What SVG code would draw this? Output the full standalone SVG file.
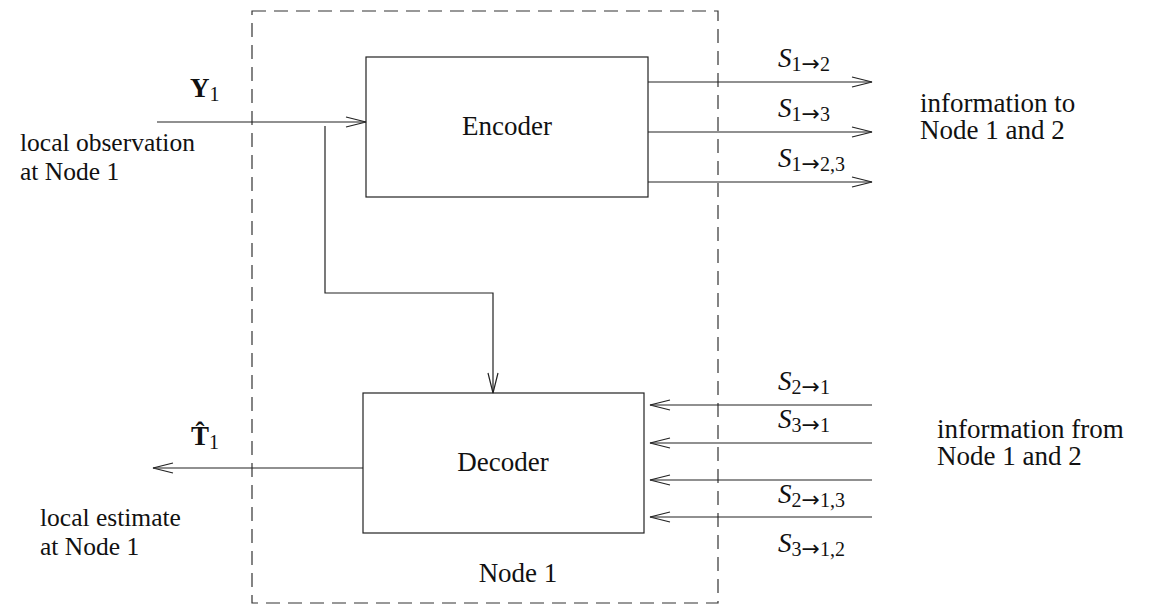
<svg xmlns="http://www.w3.org/2000/svg" width="1156" height="605" viewBox="0 0 1156 605">
<style>
  .ln{fill:none;stroke:#222;stroke-width:1.2}
  .box{fill:#fff;stroke:#222;stroke-width:1.2}
  .dash{fill:none;stroke:#333;stroke-width:1.2;stroke-dasharray:14 8}
  text{font-family:"Liberation Serif","Times New Roman",serif;font-size:27px;fill:#111}
  .it{font-style:italic}
  .sub{font-size:20px}
  .ar{font-family:"DejaVu Sans",sans-serif;font-size:22px}
  .bf{font-weight:bold}
  .ml{font-size:25.5px}
</style>
<defs>
  <marker id="ah" markerUnits="userSpaceOnUse" markerWidth="24" markerHeight="14" viewBox="-22 -7 24 14" refX="0" refY="0" orient="auto">
    <path d="M-20,-5 L0,0 L-20,5" fill="none" stroke="#222" stroke-width="1.2"/>
  </marker>
</defs>
<rect id="node1-frame" class="dash" x="252" y="11" width="466" height="592"/>
<g id="encoder">
  <rect class="box" x="366" y="57" width="282" height="140"/>
  <text x="507" y="135" text-anchor="middle">Encoder</text>
</g>
<g id="decoder">
  <rect class="box" x="363" y="393" width="281" height="140"/>
  <text x="503" y="471" text-anchor="middle">Decoder</text>
</g>
<g id="connectors">
  <line class="ln" x1="157" y1="122" x2="366" y2="122" marker-end="url(#ah)"/>
  <polyline class="ln" points="325,126 325,293 493,293 493,393" marker-end="url(#ah)"/>
  <line class="ln" x1="648" y1="82" x2="872" y2="82" marker-end="url(#ah)"/>
  <line class="ln" x1="648" y1="132" x2="872" y2="132" marker-end="url(#ah)"/>
  <line class="ln" x1="648" y1="182" x2="872" y2="182" marker-end="url(#ah)"/>
  <line class="ln" x1="872" y1="405" x2="650" y2="405" marker-end="url(#ah)"/>
  <line class="ln" x1="872" y1="443" x2="650" y2="443" marker-end="url(#ah)"/>
  <line class="ln" x1="872" y1="480" x2="650" y2="480" marker-end="url(#ah)"/>
  <line class="ln" x1="872" y1="517" x2="650" y2="517" marker-end="url(#ah)"/>
  <line class="ln" x1="363" y1="468" x2="153" y2="468" marker-end="url(#ah)"/>
</g>
<g id="labels">
  <text x="190" y="97"><tspan class="bf">Y</tspan><tspan class="sub" dy="4">1</tspan></text>
  <text class="ml" x="20" y="151">local observation<tspan x="20" dy="29">at Node 1</tspan></text>
  <text x="191" y="445"><tspan class="bf">T̂</tspan><tspan class="sub" dy="4">1</tspan></text>
  <text class="ml" x="40" y="526">local estimate<tspan x="40" dy="29">at Node 1</tspan></text>
  <text x="778" y="67"><tspan class="it">S</tspan><tspan class="sub" dy="4">1</tspan><tspan class="ar">→</tspan><tspan class="sub">2</tspan></text>
  <text x="778" y="117"><tspan class="it">S</tspan><tspan class="sub" dy="4">1</tspan><tspan class="ar">→</tspan><tspan class="sub">3</tspan></text>
  <text x="778" y="167"><tspan class="it">S</tspan><tspan class="sub" dy="4">1</tspan><tspan class="ar">→</tspan><tspan class="sub">2,3</tspan></text>
  <text x="920" y="112">information to<tspan x="920" dy="27">Node 1 and 2</tspan></text>
  <text x="778" y="390"><tspan class="it">S</tspan><tspan class="sub" dy="4">2</tspan><tspan class="ar">→</tspan><tspan class="sub">1</tspan></text>
  <text x="778" y="428"><tspan class="it">S</tspan><tspan class="sub" dy="4">3</tspan><tspan class="ar">→</tspan><tspan class="sub">1</tspan></text>
  <text x="778" y="503"><tspan class="it">S</tspan><tspan class="sub" dy="4">2</tspan><tspan class="ar">→</tspan><tspan class="sub">1,3</tspan></text>
  <text x="778" y="552"><tspan class="it">S</tspan><tspan class="sub" dy="4">3</tspan><tspan class="ar">→</tspan><tspan class="sub">1,2</tspan></text>
  <text x="937" y="438">information from<tspan x="937" dy="27">Node 1 and 2</tspan></text>
  <text x="518" y="582" text-anchor="middle">Node 1</text>
</g>
</svg>
